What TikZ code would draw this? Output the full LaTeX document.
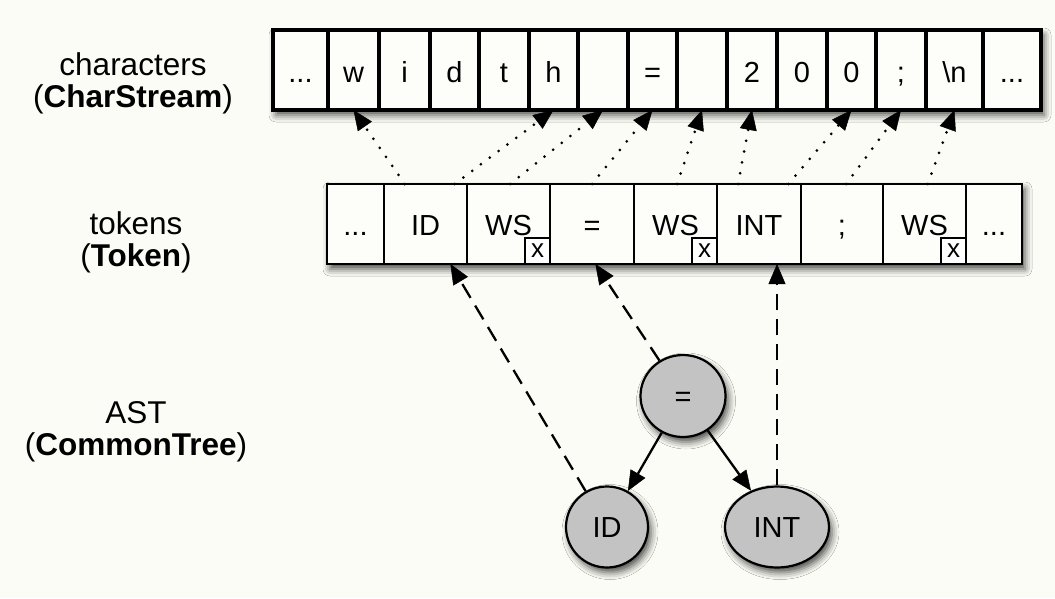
\documentclass[tikz,border=0pt]{standalone}
\usepackage{fontspec}
\setmainfont{Liberation Sans}
\usetikzlibrary{arrows.meta,calc,shapes.geometric,shadows.blur}

\definecolor{paper}{HTML}{FCFCF6}
\definecolor{cellfill}{HTML}{FDFDF9}
\definecolor{nodegray}{HTML}{C3C3C3}

% three dots as plain periods (kept out of \foreach's range syntax)
\newcommand{\celldots}{...}

\tikzset{
  soft shadow/.style={blur shadow={shadow xshift=3pt, shadow yshift=-5pt,
      shadow blur radius=7pt, shadow opacity=70}},
  rowframe/.style={fill=cellfill, soft shadow},
  charcell/.style={draw, line width=3.3pt, minimum height=80pt, inner sep=0pt,
      outer sep=0pt, font=\fontsize{29}{31}\selectfont, text height=24pt, text depth=0pt},
  tokcell/.style={draw, line width=2.9pt, minimum height=80pt, inner sep=0pt,
      outer sep=0pt, font=\fontsize{29}{31}\selectfont, text height=22pt, text depth=0pt},
  xbox/.style={draw, line width=2.6pt, fill=white, minimum width=25pt, minimum height=26pt,
      inner sep=0pt, outer sep=0pt, anchor=south east,
      font=\fontsize{26}{28}\selectfont, text height=13.5pt, text depth=0pt},
  lbl/.style={anchor=base, inner sep=0pt, font=\fontsize{31.5}{33}\selectfont},
  treenode/.style={ellipse, draw, line width=2.2pt, fill=nodegray, soft shadow,
      inner sep=0pt, font=\fontsize{29}{31}\selectfont, text height=20pt, text depth=0pt},
  head/.tip={Triangle[length=20pt, width=17pt, line width=0.5pt, fill=black]},
  tree edge/.style={line width=2.3pt, -head},
  link/.style={line width=2.3pt, dash pattern=on 16pt off 9pt, -head},
  span/.style={line width=3pt, line cap=round, dash pattern=on 0pt off 11pt, -head},
}

\begin{document}
\begin{tikzpicture}[x=1pt,y=-1pt]
  \fill[paper] (0,0) rectangle (1055,598);
  \useasboundingbox (0,0) rectangle (1055,598);

  % row labels
  \node[lbl] (lc1) at (133,75) {characters};
  \node[lbl] (lc2) at (133,107) {(\textbf{CharStream})};
  \node[lbl] (lt1) at (136,234) {tokens};
  \node[lbl] (lt2) at (136,266) {(\textbf{Token})};
  \node[lbl] (la1) at (136,423) {AST};
  \node[lbl] (la2) at (136,455) {(\textbf{CommonTree})};

  % backgrounds of the two streams
  \path[rowframe] (273,30) rectangle (1041,110);
  \path[rowframe] (327,184) rectangle (1022,264);

  % character stream
  \foreach \xa/\xb/\txt/\nm in {273/328/\celldots/c1, 328/379/w/c2, 379/430/i/c3,
      430/479/d/c4, 479/529/t/c5, 529/578/h/c6, 578/628/{}/c7, 628/677/=/c8,
      677/727/{}/c9, 727/777/2/c10, 777/827/0/c11, 827/876/0/c12, 876/926/;/c13,
      926/983/\textbackslash n/c14, 983/1041/\celldots/c15}
    \node[charcell, minimum width={(\xb-\xa)*1pt}] (\nm) at ({(\xa+\xb)/2},70) {\txt};

  % token stream
  \foreach \xa/\xb/\txt/\nm in {327/384/\celldots/t1, 384/467/ID/t2, 467/550/WS/t3,
      550/634/=/t4, 634/717/WS/t5, 717/801/INT/t6, 801/883/;/t7, 883/966/WS/t8,
      966/1022/\celldots/t9}
    \node[tokcell, minimum width={(\xb-\xa)*1pt}] (\nm) at ({(\xa+\xb)/2},224) {\txt};

  % hidden-channel markers on whitespace tokens
  \foreach \nm in {t3,t5,t8}
    \node[xbox] (x\nm) at (\nm.south east) {x};

  % tokens point back to the characters they span
  \draw[span] ($(t2.north west)!0.25!(t2.north east)$) -- (c2.south);
  \draw[span] ($(t2.north west)!0.85!(t2.north east)$) -- (c6.south);
  \draw[span] ($(t3.north west)!0.52!(t3.north east)$) -- (c7.south);
  \draw[span] ($(t4.north west)!0.5!(t4.north east)$) -- (c8.south);
  \draw[span] ($(t5.north west)!0.52!(t5.north east)$) -- (c9.south);
  \draw[span] ($(t6.north west)!0.25!(t6.north east)$) -- (c10.south);
  \draw[span] ($(t6.north west)!0.85!(t6.north east)$) -- (c12.south);
  \draw[span] ($(t7.north west)!0.55!(t7.north east)$) -- (c13.south);
  \draw[span] ($(t8.north west)!0.54!(t8.north east)$) -- (c14.south);

  % abstract syntax tree
  \node[treenode, minimum width=85pt, minimum height=82pt] (eq) at (683,396) {=};
  \node[treenode, minimum width=82pt, minimum height=81pt] (id) at (607,527) {ID};
  \node[treenode, minimum width=104pt, minimum height=81pt] (int) at (777,527) {INT};

  \draw[tree edge] (eq) -- (id);
  \draw[tree edge] (eq) -- (int);

  % tree nodes point to their tokens
  \draw[link] (id) -- ($(t2.south west)!0.8!(t2.south east)$);
  \draw[link] (eq) -- ($(t4.south west)!0.54!(t4.south east)$);
  \draw[link] (int.north) -- (int.north |- t6.south);
\end{tikzpicture}
\end{document}
